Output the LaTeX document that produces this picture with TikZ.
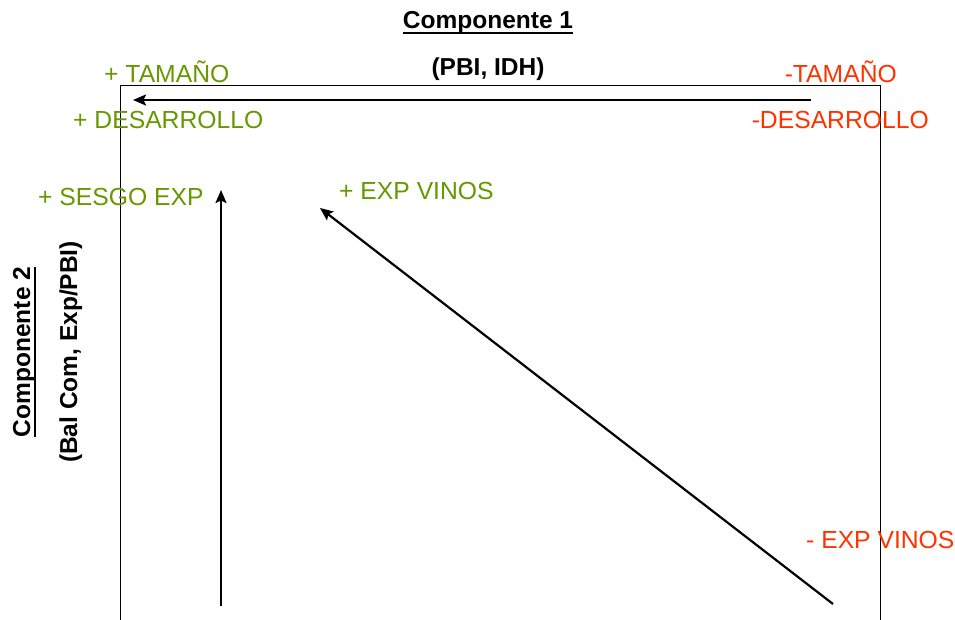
\documentclass[tikz,border=0pt]{standalone}
\usepackage{fontspec}
\setmainfont{Liberation Sans}
\usetikzlibrary{arrows.meta}
\definecolor{pgreen}{RGB}{102,153,0}
\definecolor{pred}{RGB}{255,51,0}
\tikzset{
  lbl/.style={inner sep=0pt, font=\fontsize{24.7}{28}\selectfont},
  plus/.style={lbl, text=pgreen},
  minus/.style={lbl, text=pred},
  ttl/.style={inner sep=0pt, font=\fontsize{24.5}{28}\selectfont\bfseries},
  arr/.style={line width=2.2pt, -{Stealth[length=13pt,width=11pt,inset=2.5pt]}},
  frame/.style={line width=1pt}
}
\begin{document}
\begin{tikzpicture}[x=1pt,y=-1pt]
\useasboundingbox (0,0) rectangle (955,619);
\fill[white] (0,0) rectangle (955,619);
% frame
\draw[frame] (120,621) -- (120,85) -- (880,85) -- (880,621);
% titles
\node[ttl, anchor=base] (c1) at (488,28) {Componente 1};
\draw[line width=2pt] ([yshift=-5pt]c1.base west) -- ([yshift=-5pt]c1.base east);
\node[ttl, anchor=base] (c1s) at (488,75) {(PBI, IDH)};
\node[ttl, anchor=base, rotate=90] (c2) at (30,352) {Componente 2};
\draw[line width=2pt] ([xshift=5pt]c2.base west) -- ([xshift=5pt]c2.base east);
\node[ttl, anchor=base, rotate=90] (c2s) at (77,352) {(Bal Com, Exp/PBI)};
% labels
\node[plus, anchor=base west] (pt) at (104,82) {+ TAMAÑO};
\node[plus, anchor=base west] (pd) at (73,128) {+ DESARROLLO};
\node[minus, anchor=base east] (mt) at (897,82) {-TAMAÑO};
\node[minus, anchor=base east] (md) at (929,128) {-DESARROLLO};
\node[plus, anchor=base west] (ps) at (38,205) {+ SESGO EXP};
\node[plus, anchor=base west] (pv) at (339,199) {+ EXP VINOS};
\node[minus, anchor=base west] (mv) at (806,548) {- EXP VINOS};
% arrow endpoints
\coordinate (h1) at (811,100);
\coordinate (h2) at (133,100);
\coordinate (v1) at (221,606);
\coordinate (v2) at (221,190);
\coordinate (d1) at (833,604);
\coordinate (d2) at (320,208);
\draw[arr] (h1) -- (h2);
\draw[arr] (v1) -- (v2);
\draw[arr] (d1) -- (d2);
\end{tikzpicture}
\end{document}
